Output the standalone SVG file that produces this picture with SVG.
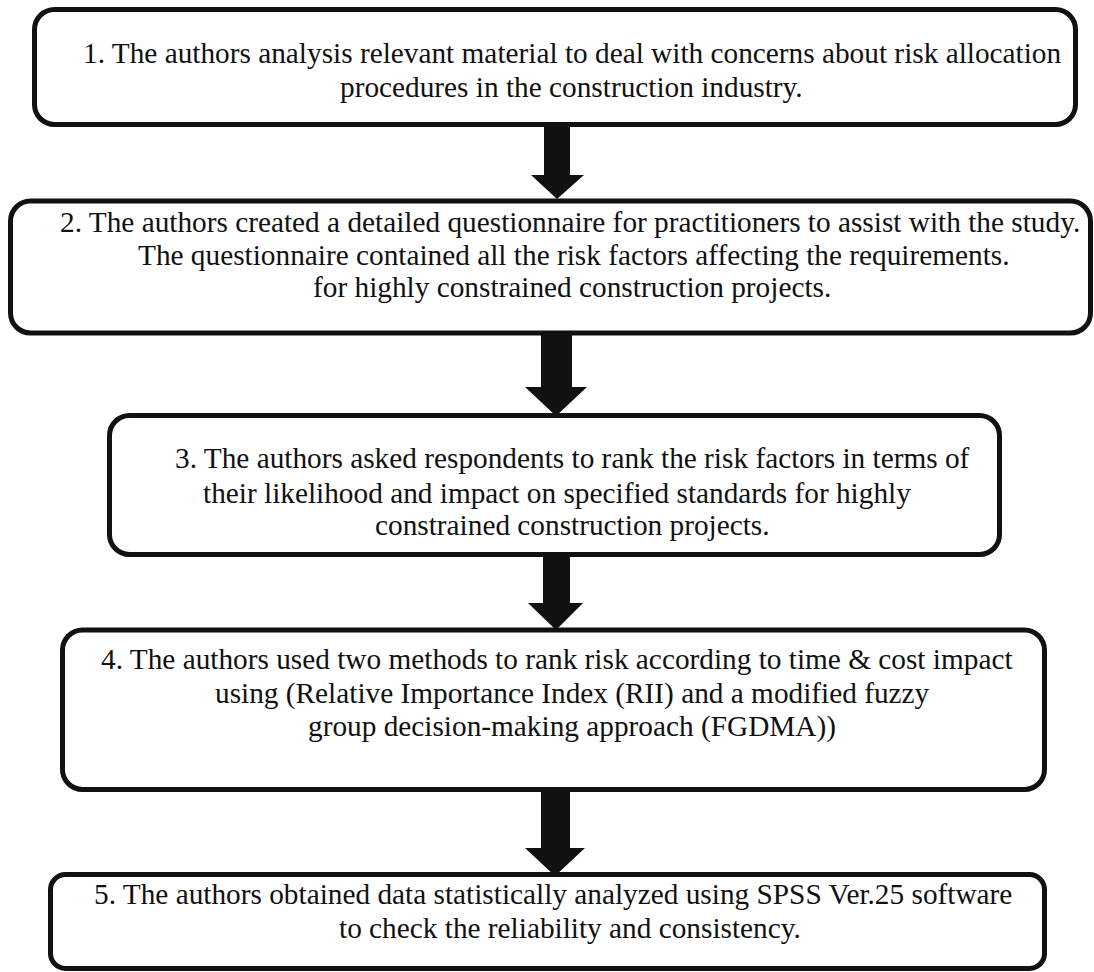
<svg xmlns="http://www.w3.org/2000/svg" width="1094" height="972" viewBox="0 0 1094 972">
<style>
.box{fill:#fff;stroke:#111;stroke-width:5}
.t{font-family:"Liberation Serif","Times New Roman",serif;font-size:29.3px;fill:#111}
.arr{fill:#111;stroke:none}
</style>
<rect width="1094" height="972" fill="#fff"/>
<g id="node1">
<rect class="box" x="34.5" y="9.5" width="1041" height="115" rx="20"/>
<text class="t" x="83" y="63">1. The authors analysis relevant material to deal with concerns about risk allocation</text>
<text class="t" x="340" y="97">procedures in the construction industry.</text>
</g>
<g id="node2">
<rect class="box" x="10.5" y="201" width="1080" height="132" rx="20"/>
<text class="t" x="60" y="232">2. The authors created a detailed questionnaire for practitioners to assist with the study.</text>
<text class="t" x="138" y="265">The questionnaire contained all the risk factors affecting the requirements.</text>
<text class="t" x="313" y="297">for highly constrained construction projects.</text>
</g>
<g id="node3">
<rect class="box" x="109.5" y="415.5" width="890" height="139" rx="20"/>
<text class="t" x="175" y="468">3. The authors asked respondents to rank the risk factors in terms of</text>
<text class="t" x="203" y="503">their likelihood and impact on specified standards for highly</text>
<text class="t" x="375" y="535">constrained construction projects.</text>
</g>
<g id="node4">
<rect class="box" x="62.5" y="630" width="982" height="159.5" rx="20"/>
<text class="t" x="101" y="669">4. The authors used two methods to rank risk according to time &amp; cost impact</text>
<text class="t" x="215" y="703">using (Relative Importance Index (RII) and a modified fuzzy</text>
<text class="t" x="308" y="736">group decision-making approach (FGDMA))</text>
</g>
<g id="node5">
<rect class="box" x="50.5" y="874.5" width="994" height="94" rx="15"/>
<text class="t" x="94" y="904">5. The authors obtained data statistically analyzed using SPSS Ver.25 software</text>
<text class="t" x="339" y="938">to check the reliability and consistency.</text>
</g>
<g id="connectors">
<polygon class="arr" points="544,127 570,127 570,175 584,175 557,199 531,175 544,175"/>
<polygon class="arr" points="541,335 572,335 572,387 587,387 556,416 525,387 541,387"/>
<polygon class="arr" points="543,557 570,557 570,603 583,603 556,630 528,603 543,603"/>
<polygon class="arr" points="541,792 570,792 570,848 585,848 555,876 525,848 541,848"/>
</g>
</svg>
